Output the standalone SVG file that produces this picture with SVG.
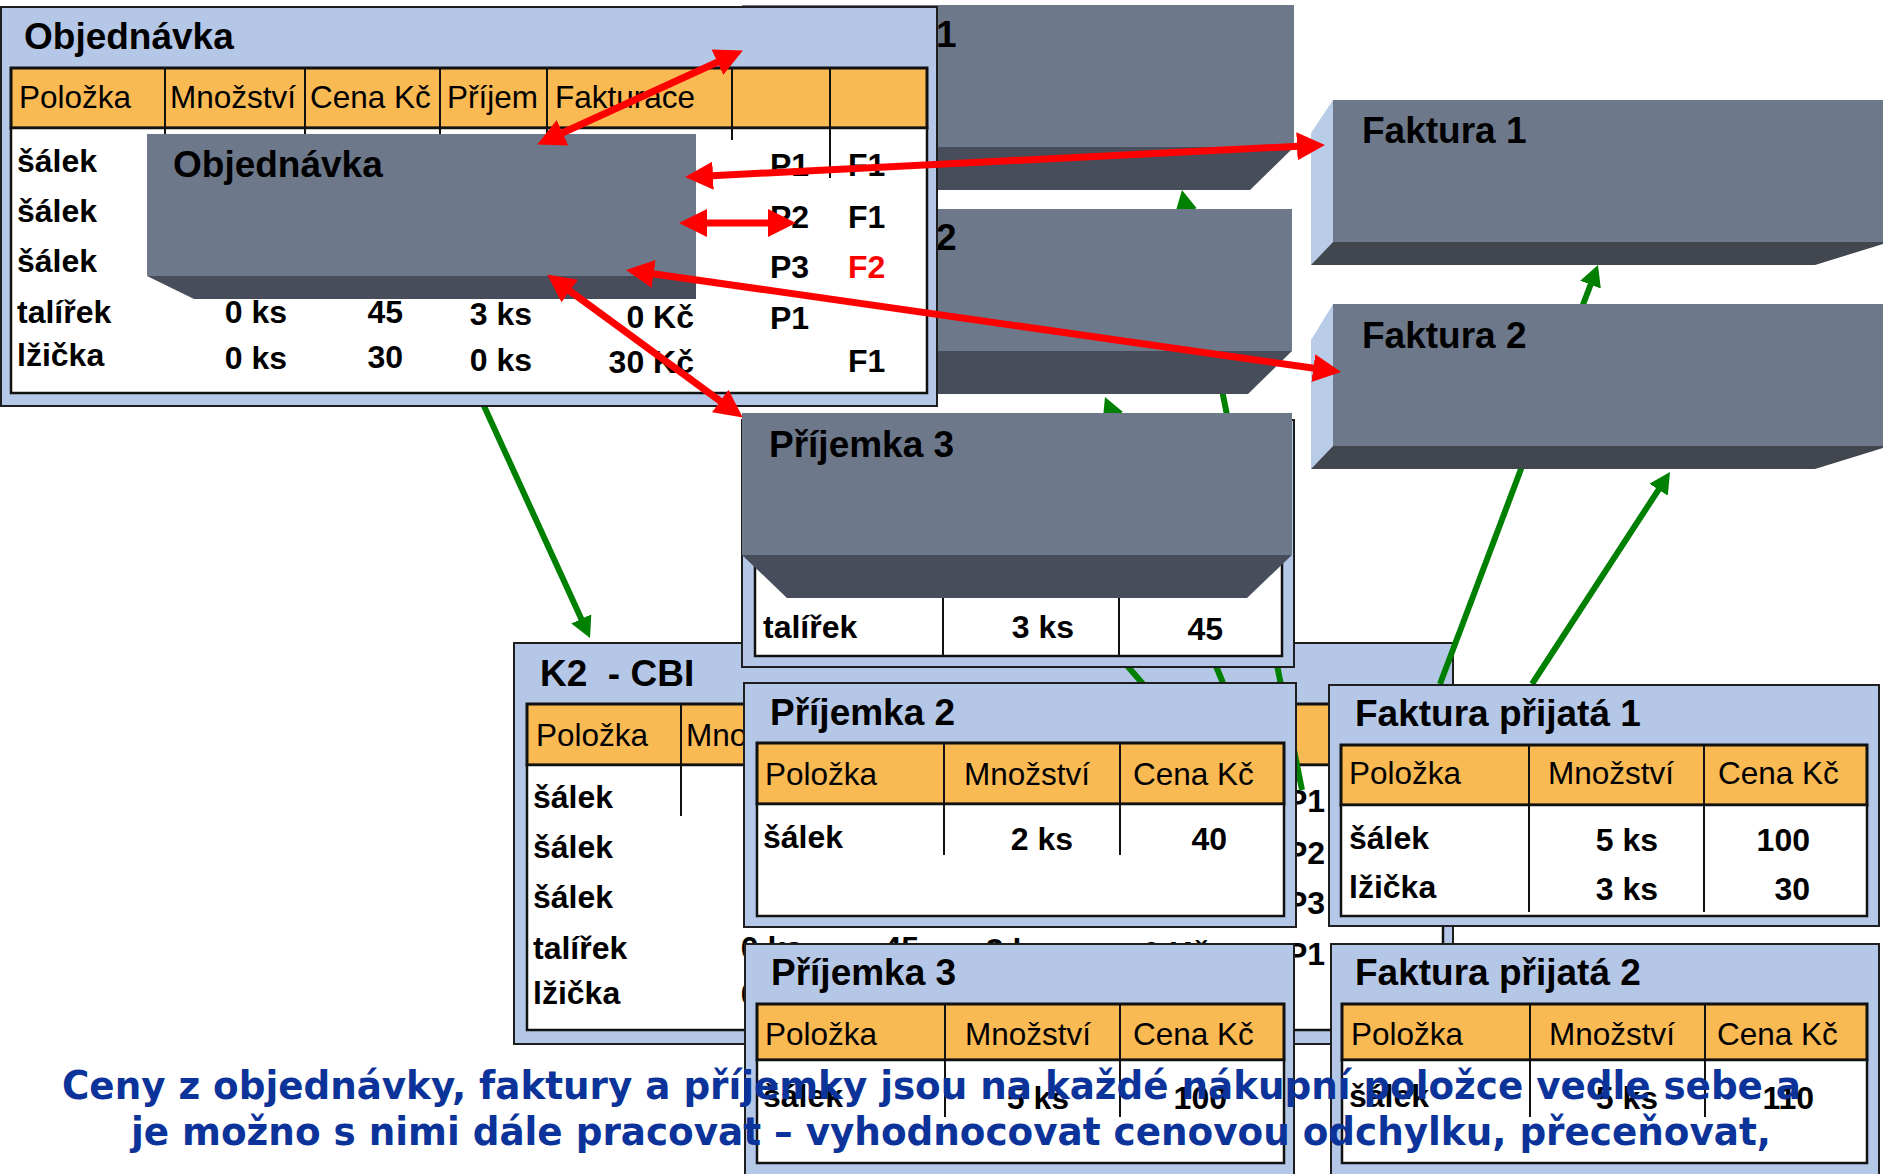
<svg xmlns="http://www.w3.org/2000/svg" width="1883" height="1174" viewBox="0 0 1883 1174">
<defs>
<style>
.panel{fill:#B4C7E7;stroke:#1E1E1E;stroke-width:2}
.hdr{fill:#F9B953;stroke:#111;stroke-width:3}
.body{fill:#FFFFFF;stroke:#111;stroke-width:2.5}
.sep{stroke:#111;stroke-width:2}
.top{fill:#6D788B}
.band{fill:#474D5B}
.band2{fill:#41464F}
.bevel{fill:#B8CCE8}
text{font-family:"Liberation Sans",Arial,sans-serif;fill:#000}
.title{font-size:37px;font-weight:bold}
.th{font-size:31.5px}
.td{font-size:32px;font-weight:bold}
.num{text-anchor:end}
.red{fill:#FF0000}
.pre{white-space:pre}
.cap{font-family:"DejaVu Sans Condensed","DejaVu Sans",sans-serif;font-size:39px;font-weight:bold;fill:#0B3399}
.rl{stroke:#FF0000;stroke-width:7;fill:none}
.gl{stroke:#008000;stroke-width:6;fill:none}
</style>
<marker id="ahR" markerUnits="userSpaceOnUse" viewBox="0 0 28 28" markerWidth="28" markerHeight="28" refX="1" refY="14" orient="auto-start-reverse"><path d="M0,0 L28,14 L0,28 z" fill="#FF0000"/></marker>
<marker id="ahG" markerUnits="userSpaceOnUse" viewBox="0 0 21 22" markerWidth="21" markerHeight="22" refX="1" refY="11" orient="auto"><path d="M0,0 L21,11 L0,22 z" fill="#008000"/></marker>
</defs>
<rect x="0" y="0" width="1883" height="1174" fill="#FFFFFF"/>

<g id="k2-cbi">
<rect class="panel" x="514" y="643" width="939" height="401"/>
<text class="title pre" x="540" y="686">K2  - CBI</text>
<rect class="hdr" x="527" y="704" width="916" height="61"/>
<line class="sep" x1="681" y1="704" x2="681" y2="765"/>
<line class="sep" x1="821" y1="704" x2="821" y2="765"/>
<line class="sep" x1="956" y1="704" x2="956" y2="765"/>
<line class="sep" x1="1063" y1="704" x2="1063" y2="765"/>
<line class="sep" x1="1248" y1="704" x2="1248" y2="765"/>
<line class="sep" x1="1346" y1="704" x2="1346" y2="765"/>
<rect class="body" x="527" y="765" width="916" height="265"/>
<line class="sep" x1="681" y1="765" x2="681" y2="816"/>
<text class="th" x="536" y="746">Položka</text>
<text class="th" x="686" y="746">Množství</text>
<text class="td" x="533" y="808">šálek</text>
<text class="td" x="533" y="858">šálek</text>
<text class="td" x="533" y="908">šálek</text>
<text class="td" x="533" y="959">talířek</text>
<text class="td" x="533" y="1004">lžička</text>
<text class="td num" x="803" y="959">0 ks</text>
<text class="td num" x="919" y="959">45</text>
<text class="td num" x="1048" y="961">3 ks</text>
<text class="td num" x="1210" y="964">0 Kč</text>
<text class="td" x="1286" y="965">P1</text>
<text class="td num" x="803" y="1005">0 ks</text>
<text class="td" x="1286" y="812">P1</text>
<text class="td" x="1286" y="864">P2</text>
<text class="td" x="1286" y="914">P3</text>
</g>

<g id="connectors-green">
<line class="gl" x1="484" y1="406" x2="581.7" y2="619.8" marker-end="url(#ahG)"/>
<line class="gl" x1="1223" y1="683" x2="1112.6" y2="415.5" marker-end="url(#ahG)"/>
<line class="gl" x1="1302" y1="790" x2="1185.9" y2="209.6" marker-end="url(#ahG)"/>
<line class="gl" x1="1150" y1="692" x2="1110" y2="646"/>
<line class="gl" x1="1440" y1="684" x2="1590.9" y2="283.7" marker-end="url(#ahG)"/>
<line class="gl" x1="1532" y1="684" x2="1659.1" y2="488.8" marker-end="url(#ahG)"/>
</g>

<g id="prijemka1-3d">
<rect class="top" x="742" y="5" width="552" height="142"/>
<polygon class="band" points="742,147 1294,147 1250,190 786,190"/>
<text class="title" x="936" y="47">1</text>
</g>

<g id="prijemka2-3d">
<rect class="top" x="742" y="209" width="550" height="142"/>
<polygon class="band" points="742,351 1292,351 1248,394 786,394"/>
<text class="title" x="936" y="250">2</text>
</g>

<g id="objednavka">
<rect class="panel" x="1" y="7" width="936" height="399"/>
<text class="title" x="24" y="49">Objednávka</text>
<rect class="hdr" x="11" y="68" width="916" height="60"/>
<line class="sep" x1="165" y1="68" x2="165" y2="128"/>
<line class="sep" x1="305" y1="68" x2="305" y2="128"/>
<line class="sep" x1="440" y1="68" x2="440" y2="128"/>
<line class="sep" x1="547" y1="68" x2="547" y2="128"/>
<line class="sep" x1="732" y1="68" x2="732" y2="128"/>
<line class="sep" x1="830" y1="68" x2="830" y2="128"/>
<rect class="body" x="11" y="128" width="916" height="265"/>
<line class="sep" x1="165" y1="128" x2="165" y2="136"/>
<line class="sep" x1="305" y1="128" x2="305" y2="136"/>
<line class="sep" x1="440" y1="128" x2="440" y2="136"/>
<line class="sep" x1="547" y1="128" x2="547" y2="136"/>
<line class="sep" x1="732" y1="128" x2="732" y2="140"/>
<line class="sep" x1="830" y1="128" x2="830" y2="178"/>
<text class="th" x="19" y="108">Položka</text>
<text class="th" x="170" y="108">Množství</text>
<text class="th" x="310" y="108">Cena Kč</text>
<text class="th" x="447" y="108">Příjem</text>
<text class="th" x="555" y="108">Fakturace</text>
<text class="td" x="17" y="172">šálek</text>
<text class="td" x="17" y="222">šálek</text>
<text class="td" x="17" y="272">šálek</text>
<text class="td" x="17" y="323">talířek</text>
<text class="td" x="17" y="366">lžička</text>
<text class="td num" x="287" y="323">0 ks</text>
<text class="td num" x="403" y="323">45</text>
<text class="td num" x="532" y="325">3 ks</text>
<text class="td num" x="694" y="328">0 Kč</text>
<text class="td" x="770" y="329">P1</text>
<text class="td num" x="287" y="369">0 ks</text>
<text class="td num" x="403" y="368">30</text>
<text class="td num" x="532" y="371">0 ks</text>
<text class="td num" x="694" y="373">30 Kč</text>
<text class="td" x="848" y="372">F1</text>
<text class="td" x="770" y="176">P1</text>
<text class="td" x="848" y="176">F1</text>
<text class="td" x="770" y="228">P2</text>
<text class="td" x="848" y="228">F1</text>
<text class="td" x="770" y="278">P3</text>
<text class="td red" x="848" y="278">F2</text>
</g>

<g id="objednavka-3d">
<rect class="top" x="147" y="134" width="549" height="142"/>
<polygon class="band" points="147,276 696,276 696,299 194,299"/>
<text class="title" x="173" y="177">Objednávka</text>
</g>

<g id="prijemka3-upper">
<rect class="panel" x="742" y="420" width="552" height="247"/>
<rect class="body" x="755" y="540" width="527" height="116"/>
<line class="sep" x1="943" y1="598" x2="943" y2="656"/>
<line class="sep" x1="1119" y1="598" x2="1119" y2="656"/>
<text class="td" x="763" y="638">talířek</text>
<text class="td num" x="1074" y="638">3 ks</text>
<text class="td num" x="1223" y="640">45</text>
</g>

<g id="prijemka3-3d">
<rect class="top" x="742" y="413" width="550" height="142"/>
<polygon class="band" points="742,555 1292,555 1247,598 787,598"/>
<text class="title" x="769" y="457">Příjemka 3</text>
</g>

<g id="faktura1-3d">
<polygon class="bevel" points="1333,100 1311,133 1311,265 1333,242"/>
<rect class="top" x="1333" y="100" width="550" height="142"/>
<polygon class="band2" points="1311,265 1333,242 1883,242 1883,244 1815,265"/>
<text class="title" x="1362" y="143">Faktura 1</text>
</g>

<g id="faktura2-3d">
<polygon class="bevel" points="1333,304 1311,340 1311,469 1333,446"/>
<rect class="top" x="1333" y="304" width="550" height="142"/>
<polygon class="band2" points="1311,469 1333,446 1883,446 1883,448 1815,469"/>
<text class="title" x="1362" y="348">Faktura 2</text>
</g>

<g id="prijemka2">
<rect class="panel" x="744" y="683" width="552" height="244"/>
<text class="title" x="770" y="725">Příjemka 2</text>
<rect class="hdr" x="757" y="743" width="527" height="61"/>
<line class="sep" x1="944" y1="743" x2="944" y2="804"/>
<line class="sep" x1="1120" y1="743" x2="1120" y2="804"/>
<rect class="body" x="757" y="804" width="527" height="112"/>
<line class="sep" x1="944" y1="804" x2="944" y2="855"/>
<line class="sep" x1="1120" y1="804" x2="1120" y2="855"/>
<text class="th" x="765" y="785">Položka</text>
<text class="th" x="964" y="785">Množství</text>
<text class="th" x="1133" y="785">Cena Kč</text>
<text class="td" x="763" y="848">šálek</text>
<text class="td num" x="1073" y="850">2 ks</text>
<text class="td num" x="1227" y="850">40</text>
</g>

<g id="faktura-prijata1">
<rect class="panel" x="1329" y="685" width="550" height="241"/>
<text class="title" x="1355" y="726">Faktura přijatá 1</text>
<rect class="hdr" x="1341" y="745" width="526" height="60"/>
<line class="sep" x1="1529" y1="745" x2="1529" y2="805"/>
<line class="sep" x1="1704" y1="745" x2="1704" y2="805"/>
<rect class="body" x="1341" y="805" width="526" height="111"/>
<line class="sep" x1="1529" y1="805" x2="1529" y2="912"/>
<line class="sep" x1="1704" y1="805" x2="1704" y2="912"/>
<text class="th" x="1349" y="784">Položka</text>
<text class="th" x="1548" y="784">Množství</text>
<text class="th" x="1718" y="784">Cena Kč</text>
<text class="td" x="1349" y="849">šálek</text>
<text class="td" x="1349" y="898">lžička</text>
<text class="td num" x="1658" y="851">5 ks</text>
<text class="td num" x="1810" y="851">100</text>
<text class="td num" x="1658" y="900">3 ks</text>
<text class="td num" x="1810" y="900">30</text>
</g>

<g id="prijemka3">
<rect class="panel" x="745" y="944" width="549" height="240"/>
<text class="title" x="771" y="985">Příjemka 3</text>
<rect class="hdr" x="757" y="1004" width="527" height="56"/>
<line class="sep" x1="945" y1="1004" x2="945" y2="1060"/>
<line class="sep" x1="1120" y1="1004" x2="1120" y2="1060"/>
<rect class="body" x="757" y="1060" width="527" height="103"/>
<line class="sep" x1="945" y1="1060" x2="945" y2="1117"/>
<line class="sep" x1="1120" y1="1060" x2="1120" y2="1117"/>
<text class="th" x="765" y="1045">Položka</text>
<text class="th" x="965" y="1045">Množství</text>
<text class="th" x="1133" y="1045">Cena Kč</text>
<text class="td" x="763" y="1107">šálek</text>
<text class="td num" x="1069" y="1109">5 ks</text>
<text class="td num" x="1227" y="1109">100</text>
</g>

<g id="faktura-prijata2">
<rect class="panel" x="1331" y="944" width="548" height="240"/>
<text class="title" x="1355" y="985">Faktura přijatá 2</text>
<rect class="hdr" x="1342" y="1004" width="525" height="56"/>
<line class="sep" x1="1530" y1="1004" x2="1530" y2="1060"/>
<line class="sep" x1="1705" y1="1004" x2="1705" y2="1060"/>
<rect class="body" x="1342" y="1060" width="525" height="103"/>
<line class="sep" x1="1530" y1="1060" x2="1530" y2="1117"/>
<line class="sep" x1="1705" y1="1060" x2="1705" y2="1117"/>
<text class="th" x="1351" y="1045">Položka</text>
<text class="th" x="1549" y="1045">Množství</text>
<text class="th" x="1717" y="1045">Cena Kč</text>
<text class="td" x="1349" y="1107">šálek</text>
<text class="td num" x="1658" y="1109">5 ks</text>
<text class="td num" x="1814" y="1109">110</text>
</g>

<g id="caption">
<text class="cap" x="62" y="1099" textLength="1739" lengthAdjust="spacingAndGlyphs">Ceny z objednávky, faktury a příjemky jsou na každé nákupní položce vedle sebe a</text>
<text class="cap" x="131" y="1145" textLength="1640" lengthAdjust="spacingAndGlyphs">je možno s nimi dále pracovat – vyhodnocovat cenovou odchylku, přeceňovat,</text>
</g>

<g id="connectors-red">
<line class="rl" x1="561.7" y1="133.2" x2="718.3" y2="61.8" marker-start="url(#ahR)" marker-end="url(#ahR)"/>
<line class="rl" x1="712" y1="175.7" x2="1298" y2="146.3" marker-start="url(#ahR)" marker-end="url(#ahR)"/>
<line class="rl" x1="706" y1="223" x2="769" y2="223" marker-start="url(#ahR)" marker-end="url(#ahR)"/>
<line class="rl" x1="652.7" y1="273.7" x2="1314.3" y2="368.3" marker-start="url(#ahR)" marker-end="url(#ahR)"/>
<line class="rl" x1="569" y1="290.4" x2="721" y2="401.6" marker-start="url(#ahR)" marker-end="url(#ahR)"/>
</g>
</svg>
